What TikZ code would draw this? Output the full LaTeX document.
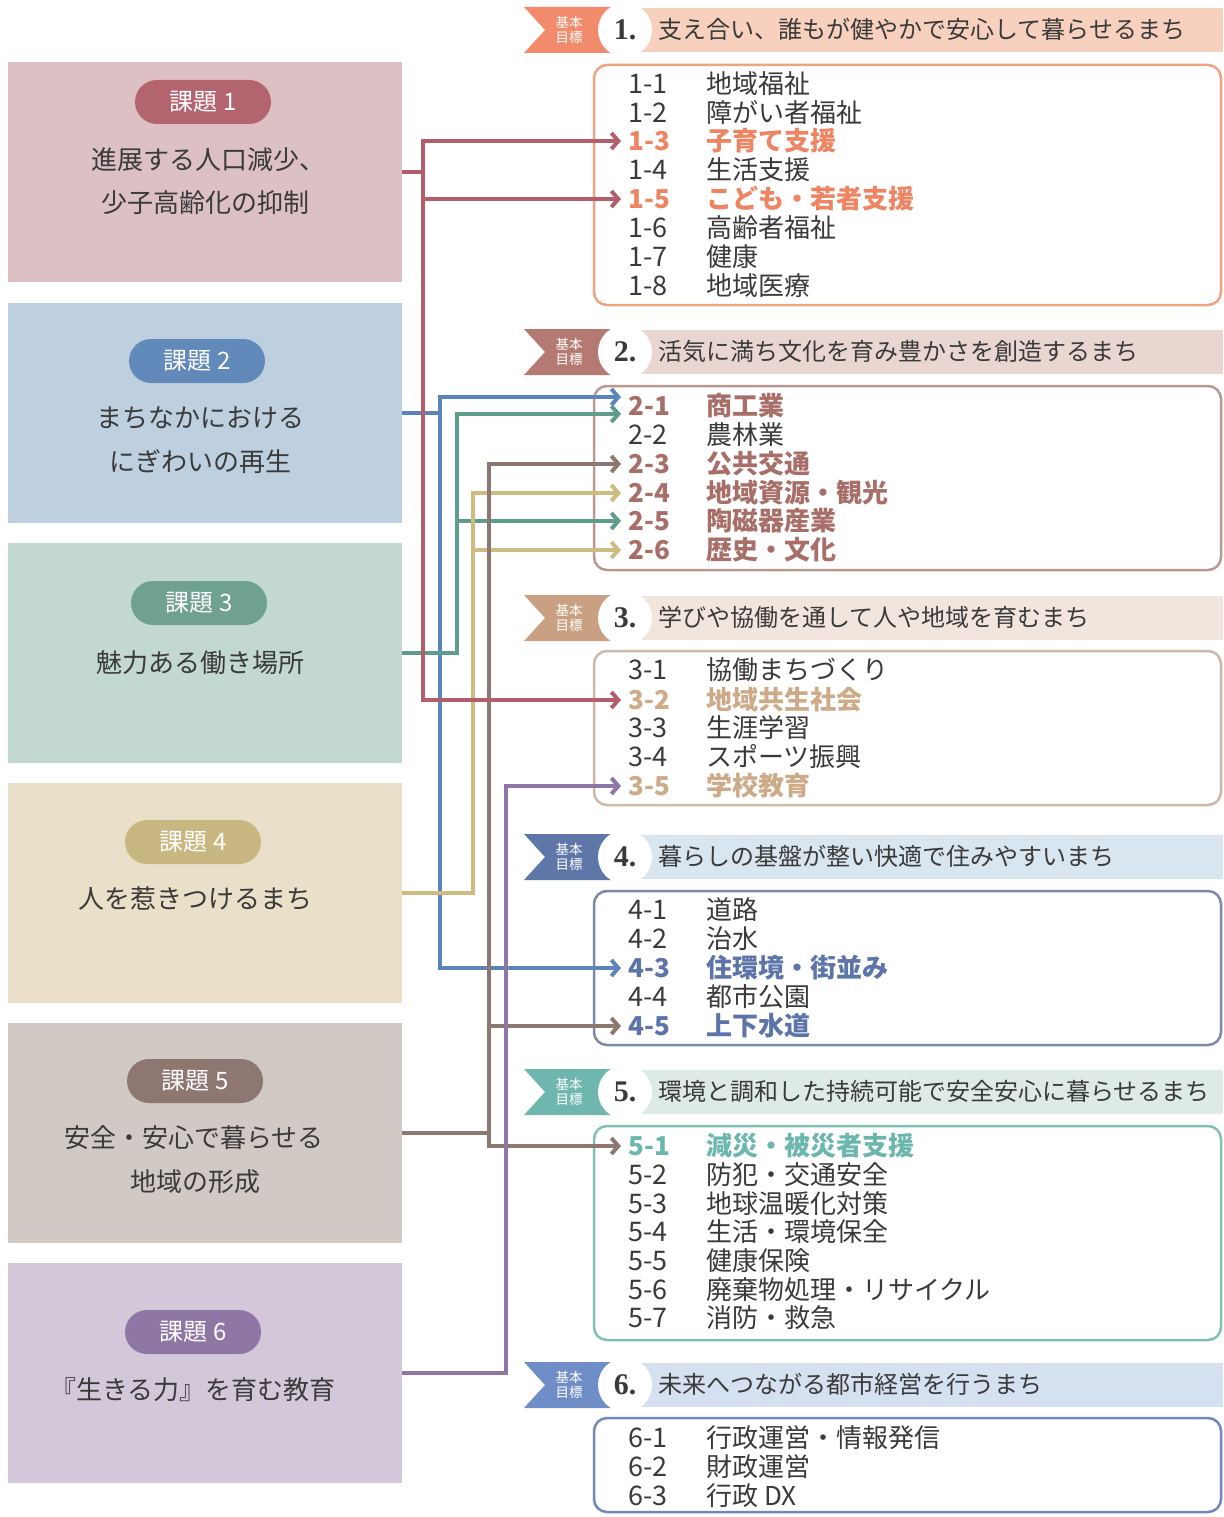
\documentclass[tikz,border=0pt]{standalone}
\usepackage{fontspec}
\setmainfont{Noto Sans CJK JP}
\newfontfamily\serifnum{Liberation Serif}
\usetikzlibrary{arrows.meta}
% connector / issue colours
\definecolor{c1}{HTML}{B25F6B}
\definecolor{c2}{HTML}{5B84B8}
\definecolor{c3}{HTML}{5E9C8B}
\definecolor{c4}{HTML}{CDBB80}
\definecolor{c5}{HTML}{8C7870}
\definecolor{c6}{HTML}{8E76A6}
\definecolor{k1bg}{HTML}{DCC0C3}
\definecolor{k2bg}{HTML}{BED0E0}
\definecolor{k3bg}{HTML}{C3D8D0}
\definecolor{k4bg}{HTML}{EAE0C9}
\definecolor{k5bg}{HTML}{D1C9C4}
\definecolor{k6bg}{HTML}{D3C8DA}
\definecolor{p1}{HTML}{B4646E}
\definecolor{p2}{HTML}{6189B9}
\definecolor{p3}{HTML}{70A08E}
\definecolor{p4}{HTML}{C9B782}
\definecolor{p5}{HTML}{8D7770}
\definecolor{p6}{HTML}{8E77A4}
% goals
\definecolor{r1}{HTML}{F28B6B}
\definecolor{r2}{HTML}{B47A72}
\definecolor{r3}{HTML}{C9A182}
\definecolor{r4}{HTML}{5F76A9}
\definecolor{r5}{HTML}{6FB7AE}
\definecolor{r6}{HTML}{6F8DC6}
\definecolor{b1}{HTML}{F8D0BE}
\definecolor{b2}{HTML}{EAD6D0}
\definecolor{b3}{HTML}{F2E5DD}
\definecolor{b4}{HTML}{D9E5EF}
\definecolor{b5}{HTML}{DDEBE4}
\definecolor{b6}{HTML}{D5E1F1}
\definecolor{l1}{HTML}{EFA383}
\definecolor{l2}{HTML}{B99891}
\definecolor{l3}{HTML}{CDB8A8}
\definecolor{l4}{HTML}{7C8AA6}
\definecolor{l5}{HTML}{80C0B5}
\definecolor{l6}{HTML}{7088BE}
\definecolor{h1}{HTML}{EE8462}
\definecolor{h2}{HTML}{A86F69}
\definecolor{h3}{HTML}{CDAA88}
\definecolor{h4}{HTML}{5C74A8}
\definecolor{h5}{HTML}{6BB7AE}
\definecolor{txt}{HTML}{3A3A3A}

\newcommand{\itm}[5]{%
  \node[num,#5] (n#1) at (628,#2) {#3};
  \node[itx,#5] (t#1) at (706,#2) {#4};}
\newcommand{\goal}[6]{%
  \fill[#4] (598,#2-22) rectangle (1223,#2+22);
  \fill[#3] (524,#2-23) -- (545,#2) -- (524,#2+23) -- (612,#2+23) -- (612,#2-23) -- cycle;
  \node[rib] (r#1) at (569,#2) {基本\\目標};
  \node[gcirc] (c#1) at (625,#2) {#5};
  \node[gtitle] (g#1) at (658,#2) {#6};}

\begin{document}
\begin{tikzpicture}[x=1pt,y=-1pt,
  kbox/.style={rectangle, minimum width=394pt, minimum height=220pt, inner sep=0pt},
  pill/.style={rectangle, rounded corners=22pt, minimum width=136pt, minimum height=44pt,
    inner sep=0pt, text=white, font=\fontsize{24}{26}\selectfont},
  ktext/.style={inner sep=0pt, text=txt, text height=19pt, text depth=0pt,
    font=\fontsize{26}{28}\selectfont},
  num/.style={anchor=west, inner sep=0pt, text=txt, text height=19pt, text depth=0pt,
    font=\fontsize{27}{28}\selectfont},
  itx/.style={anchor=west, inner sep=0pt, text=txt, text height=19pt, text depth=0pt,
    font=\fontsize{26}{28}\selectfont},
  hl1/.style={text=h1, font=\fontsize{26}{28}\selectfont\bfseries},
  hl2/.style={text=h2, font=\fontsize{26}{28}\selectfont\bfseries},
  hl3/.style={text=h3, font=\fontsize{26}{28}\selectfont\bfseries},
  hl4/.style={text=h4, font=\fontsize{26}{28}\selectfont\bfseries},
  hl5/.style={text=h5, font=\fontsize{26}{28}\selectfont\bfseries},
  pl/.style={},
  rib/.style={align=center, text=white, inner sep=0pt, font=\fontsize{13.5}{15}\selectfont},
  gcirc/.style={circle, fill=white, minimum size=54pt, inner sep=0pt, text=txt,
    font=\serifnum\bfseries\fontsize{30}{30}\selectfont},
  gtitle/.style={anchor=west, inner sep=0pt, text=txt, text height=17pt, text depth=0pt,
    font=\fontsize{24}{26}\selectfont},
  lbox/.style={line width=2.5pt, rounded corners=13pt, fill=white},
  conn/.style={line width=4pt, -{Straight Barb[length=7pt,width=16pt]}}
]
\fill[white] (0,0) rectangle (1223,1517);
\useasboundingbox (0,0) rectangle (1223,1517);

% ---------- left issue boxes ----------
\node[kbox, fill=k1bg] (k1) at (205,172) {};
\node[kbox, fill=k2bg] (k2) at (205,412.5) {};
\node[kbox, fill=k3bg] (k3) at (205,652.5) {};
\node[kbox, fill=k4bg] (k4) at (205,892.5) {};
\node[kbox, fill=k5bg] (k5) at (205,1132.5) {};
\node[kbox, fill=k6bg] (k6) at (205,1373) {};

\node[pill, fill=p1] (q1) at (203,102) {課題 1};
\node[pill, fill=p2] (q2) at (197,361) {課題 2};
\node[pill, fill=p3] (q3) at (199,603) {課題 3};
\node[pill, fill=p4] (q4) at (193,842) {課題 4};
\node[pill, fill=p5] (q5) at (195,1081) {課題 5};
\node[pill, fill=p6] (q6) at (193,1332) {課題 6};

\node[ktext] (s1a) at (208,160) {進展する人口減少、};
\node[ktext] (s1b) at (205,203) {少子高齢化の抑制};
\node[ktext] (s2a) at (200,418) {まちなかにおける};
\node[ktext] (s2b) at (200,462) {にぎわいの再生};
\node[ktext] (s3a) at (200,663) {魅力ある働き場所};
\node[ktext] (s4a) at (195,899) {人を惹きつけるまち};
\node[ktext] (s5a) at (194,1138) {安全・安心で暮らせる};
\node[ktext] (s5b) at (195,1182) {地域の形成};
\node[ktext] (s6a) at (193,1390) {『生きる力』を育む教育};

% ---------- goal headers ----------
\goal{1}{30}{r1}{b1}{1.}{支え合い、誰もが健やかで安心して暮らせるまち}
\goal{2}{352}{r2}{b2}{2.}{活気に満ち文化を育み豊かさを創造するまち}
\goal{3}{618}{r3}{b3}{3.}{学びや協働を通して人や地域を育むまち}
\goal{4}{857}{r4}{b4}{4.}{暮らしの基盤が整い快適で住みやすいまち}
\goal{5}{1092}{r5}{b5}{5.}{環境と調和した持続可能で安全安心に暮らせるまち}
\goal{6}{1385}{r6}{b6}{6.}{未来へつながる都市経営を行うまち}

% ---------- list boxes ----------
\draw[lbox, draw=l1] (594,65) rectangle (1221,305);
\draw[lbox, draw=l2] (594,386) rectangle (1221,570);
\draw[lbox, draw=l3] (594,651) rectangle (1221,805);
\draw[lbox, draw=l4] (594,891) rectangle (1221,1045);
\draw[lbox, draw=l5] (594,1126) rectangle (1221,1340);
\draw[lbox, draw=l6] (594,1418) rectangle (1221,1512);

\itm{11}{84}{1-1}{地域福祉}{pl}
\itm{12}{113}{1-2}{障がい者福祉}{pl}
\itm{13}{141}{1-3}{子育て支援}{hl1}
\itm{14}{170}{1-4}{生活支援}{pl}
\itm{15}{199}{1-5}{こども・若者支援}{hl1}
\itm{16}{228}{1-6}{高齢者福祉}{pl}
\itm{17}{257}{1-7}{健康}{pl}
\itm{18}{286}{1-8}{地域医療}{pl}

\itm{21}{406}{2-1}{商工業}{hl2}
\itm{22}{435}{2-2}{農林業}{pl}
\itm{23}{464}{2-3}{公共交通}{hl2}
\itm{24}{493}{2-4}{地域資源・観光}{hl2}
\itm{25}{521}{2-5}{陶磁器産業}{hl2}
\itm{26}{550}{2-6}{歴史・文化}{hl2}

\itm{31}{670}{3-1}{協働まちづくり}{pl}
\itm{32}{700}{3-2}{地域共生社会}{hl3}
\itm{33}{728}{3-3}{生涯学習}{pl}
\itm{34}{757}{3-4}{スポーツ振興}{pl}
\itm{35}{786}{3-5}{学校教育}{hl3}

\itm{41}{910}{4-1}{道路}{pl}
\itm{42}{939}{4-2}{治水}{pl}
\itm{43}{968}{4-3}{住環境・街並み}{hl4}
\itm{44}{997}{4-4}{都市公園}{pl}
\itm{45}{1026}{4-5}{上下水道}{hl4}

\itm{51}{1146}{5-1}{減災・被災者支援}{hl5}
\itm{52}{1175}{5-2}{防犯・交通安全}{pl}
\itm{53}{1204}{5-3}{地球温暖化対策}{pl}
\itm{54}{1232}{5-4}{生活・環境保全}{pl}
\itm{55}{1261}{5-5}{健康保険}{pl}
\itm{56}{1290}{5-6}{廃棄物処理・リサイクル}{pl}
\itm{57}{1318}{5-7}{消防・救急}{pl}

\itm{61}{1438}{6-1}{行政運営・情報発信}{pl}
\itm{62}{1467}{6-2}{財政運営}{pl}
\itm{63}{1496}{6-3}{行政 DX}{pl}

% ---------- connectors ----------
\coordinate (T1) at (423,0);
\coordinate (T2) at (440,0);
\coordinate (T3) at (457,0);
\coordinate (T4) at (473,0);
\coordinate (T5) at (489,0);
\coordinate (T6) at (506,0);

\coordinate (a13) at ([xshift=-7pt]n13.west);
\coordinate (a15) at ([xshift=-7pt]n15.west);
\coordinate (a32) at ([xshift=-7pt]n32.west);
\coordinate (a21b) at ([shift={(-7pt,9pt)}]n21.west);
\coordinate (a43) at ([xshift=-7pt]n43.west);
\coordinate (a21g) at ([shift={(-7pt,-8pt)}]n21.west);
\coordinate (a25) at ([xshift=-7pt]n25.west);
\coordinate (a24) at ([xshift=-7pt]n24.west);
\coordinate (a26) at ([xshift=-7pt]n26.west);
\coordinate (a23) at ([xshift=-7pt]n23.west);
\coordinate (a45) at ([xshift=-7pt]n45.west);
\coordinate (a51) at ([xshift=-7pt]n51.west);
\coordinate (a35) at ([xshift=-7pt]n35.west);

\draw[conn, c2] (k2.east) -| (T2 |- a21b) -- (a21b);
\draw[conn, c2] (k2.east) -| (T2 |- a43) -- (a43);
\draw[conn, c3] (k3.east) -| (T3 |- a21g) -- (a21g);
\draw[conn, c3] (k3.east) -| (T3 |- a25) -- (a25);
\draw[conn, c4] (k4.east) -| (T4 |- a24) -- (a24);
\draw[conn, c4] (k4.east) -| (T4 |- a26) -- (a26);
\draw[conn, c5] (k5.east) -| (T5 |- a23) -- (a23);
\draw[conn, c5] (k5.east) -| (T5 |- a45) -- (a45);
\draw[conn, c5] (k5.east) -| (T5 |- a51) -- (a51);
\draw[conn, c6] (k6.east) -| (T6 |- a35) -- (a35);
\draw[conn, c1] (k1.east) -| (T1 |- a13) -- (a13);
\draw[conn, c1] (k1.east) -| (T1 |- a15) -- (a15);
\draw[conn, c1] (k1.east) -| (T1 |- a32) -- (a32);
\end{tikzpicture}
\end{document}
